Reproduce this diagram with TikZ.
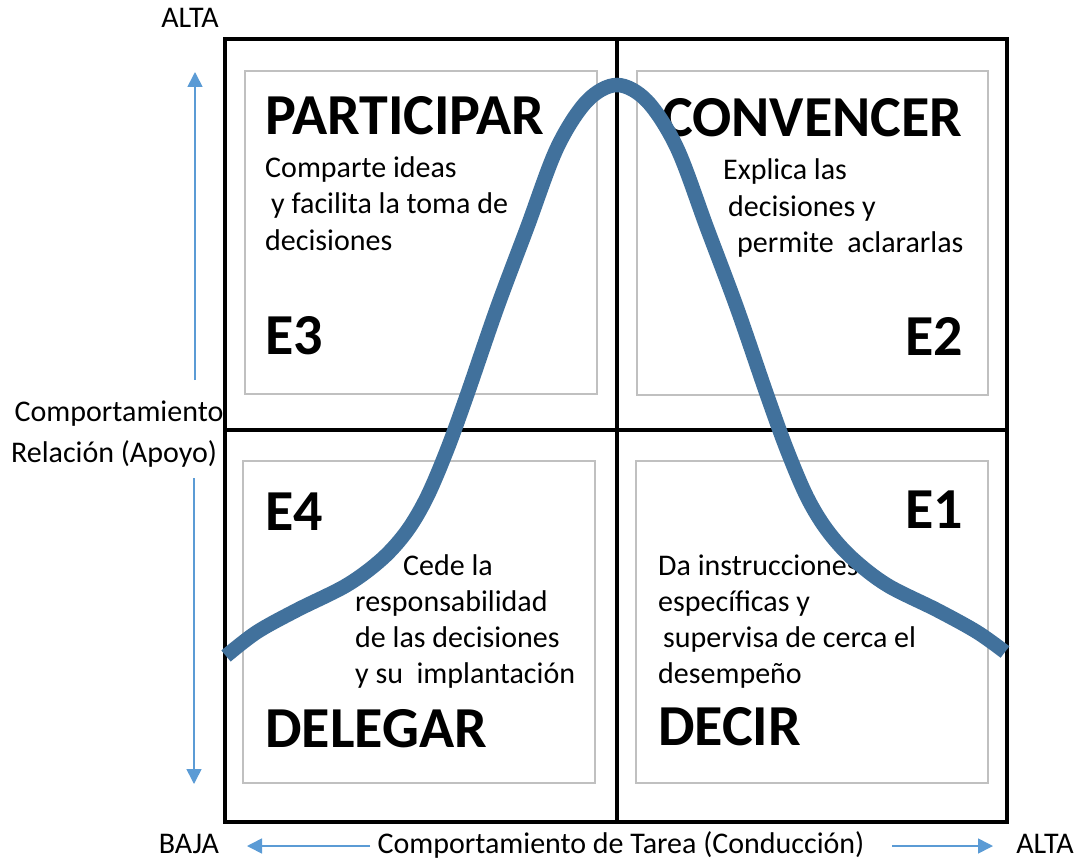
\documentclass[tikz,border=0pt]{standalone}
\usepackage{fontspec}
\setmainfont{Carlito}
\usetikzlibrary{arrows.meta}
\definecolor{curvecol}{HTML}{41719C}
\definecolor{arrcol}{HTML}{5B9BD5}
\definecolor{gboxcol}{HTML}{C0C0C0}
\tikzset{
  bigtxt/.style={font=\fontsize{58}{60}\selectfont\bfseries, inner sep=0pt},
  bodytxt/.style={font=\fontsize{30}{36}\selectfont, inner sep=0pt},
  labtxt/.style={font=\fontsize{30}{34}\selectfont, inner sep=0pt},
  frameline/.style={line width=3.5pt, black},
  graybox/.style={draw=gboxcol, line width=2pt},
  axisarrow/.style={draw=arrcol, line width=1.6pt, -{Triangle[length=15pt,width=15pt]}},
  bellcurve/.style={draw=curvecol, line width=14.5pt}
}
\begin{document}
\begin{tikzpicture}[x=1pt,y=-1pt]
\useasboundingbox (0,0) rectangle (1081,861);
% inner gray boxes
\draw[graybox] (245,71) rectangle (597,394);
\draw[graybox] (637,71) rectangle (988,395);
\draw[graybox] (243,461) rectangle (595,783);
\draw[graybox] (636,461) rectangle (988,783);
% outer frame and dividers
\draw[frameline] (225,39) rectangle (1007,822);
\draw[frameline] (617,39) -- (617,822);
\draw[frameline] (225,430) -- (1007,430);

% quadrant texts
\node[bigtxt, anchor=base west] (participar) at (265,135) {PARTICIPAR};
\node[bodytxt, anchor=base west] (p1) at (265,178) {Comparte ideas};
\node[bodytxt, anchor=base west] (p2) at (271,214) {y facilita la toma de};
\node[bodytxt, anchor=base west] (p3) at (265,250) {decisiones};
\node[bigtxt, anchor=base west] (e3) at (265,354) {E3};

\node[bigtxt, anchor=base west] (convencer) at (662,137) {CONVENCER};
\node[bodytxt, anchor=base west] (c1) at (723,180) {Explica las};
\node[bodytxt, anchor=base west] (c2) at (728,216) {decisiones y};
\node[bodytxt, anchor=base west] (c3) at (737,252) {permite\ \ aclararlas};
\node[bigtxt, anchor=base east] (e2) at (963,355) {E2};

\node[bigtxt, anchor=base west] (e4) at (265,530) {E4};
\node[bodytxt, anchor=base west] (d1) at (403,575) {Cede la};
\node[bodytxt, anchor=base west] (d2) at (355,611) {responsabilidad};
\node[bodytxt, anchor=base west] (d3) at (355,647) {de las decisiones};
\node[bodytxt, anchor=base west] (d4) at (355,683) {y su\ \ implantación};
\node[bigtxt, anchor=base west] (delegar) at (265,747) {DELEGAR};

\node[bigtxt, anchor=base east] (e1) at (963,528) {E1};
\node[bodytxt, anchor=base west] (i1) at (658,575) {Da instrucciones};
\node[bodytxt, anchor=base west] (i2) at (658,611) {específicas y};
\node[bodytxt, anchor=base west] (i3) at (663,647) {supervisa de cerca el};
\node[bodytxt, anchor=base west] (i4) at (658,683) {desempeño};
\node[bigtxt, anchor=base west] (decir) at (658,745) {DECIR};

% axis labels
\node[labtxt, anchor=base] (altay) at (190,28) {ALTA};
\node[labtxt, anchor=base] (comp1) at (119,421) {Comportamiento};
\node[labtxt, anchor=base] (comp2) at (114,462) {Relación (Apoyo)};
\node[labtxt, anchor=base] (baja) at (189,853) {BAJA};
\node[labtxt, anchor=base] (tarea) at (621,853) {Comportamiento de Tarea (Conducción)};
\node[labtxt, anchor=base] (altax) at (1045,853) {ALTA};

% axis arrows
\coordinate (upS) at (195,380);
\coordinate (upE) at (195,72);
\coordinate (dnS) at (194,478);
\coordinate (dnE) at (194,784);
\coordinate (lfS) at (370,846);
\coordinate (lfE) at (247,846);
\coordinate (rtS) at (892,846);
\coordinate (rtE) at (993,846);
\draw[axisarrow] (upS) -- (upE);
\draw[axisarrow] (dnS) -- (dnE);
\draw[axisarrow] (lfS) -- (lfE);
\draw[axisarrow] (rtS) -- (rtE);

% bell curve
\draw[bellcurve] plot[smooth, tension=0.55] coordinates {
 (226,656) (257,632) (297,610) (347,585) (382,559) (407,531) (427,497)
 (447,450) (467,395) (497,308) (527,228) (557,148) (587,101) (617,85)
 (647,101) (677,148) (707,228) (737,308) (767,395) (787,450) (807,497)
 (827,530) (852,558) (887,585) (937,610) (977,632) (1005,652)};
\end{tikzpicture}
\end{document}
